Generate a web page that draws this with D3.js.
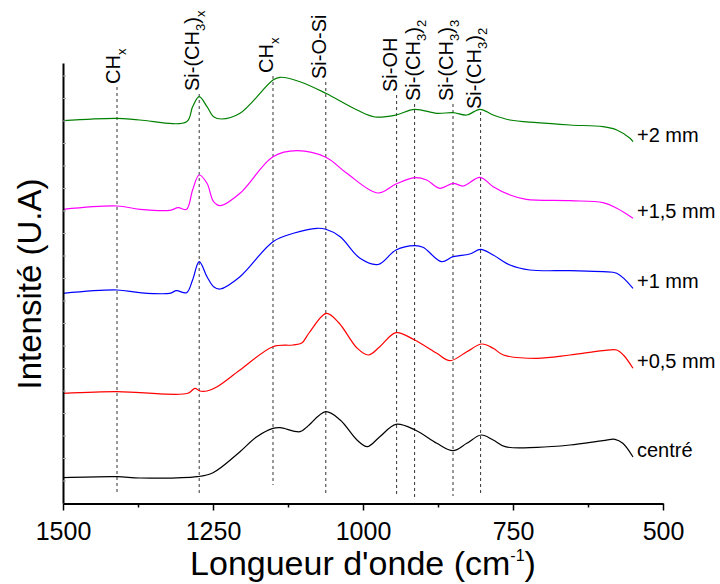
<!DOCTYPE html>
<html><head><meta charset="utf-8">
<script src="https://cdn.jsdelivr.net/npm/d3@7"></script>
<style>body{margin:0;background:#fff}svg text{font-family:"Liberation Sans",Arial,sans-serif}</style>
</head><body>
<svg id="c" width="720" height="584"></svg>
<script>
// ---- data ----
const xTicks = [1500, 1250, 1000, 750, 500];
const xMinorTicks = [1375, 1125, 875, 625];
const seriesNames = ["centré", "+0,5 mm", "+1 mm", "+1,5 mm", "+2 mm"];
const seriesColors = ["#000000", "#ff0000", "#0000ff", "#ff00ff", "#008000"];

const centreWn  = [1500,1410,1372,1277,1250,1205,1177,1150,1138,1105,1093,1062,1038,1010,993,972,945,913,877,850,827,803,783,763,710,655,600,580,567,550];
const centreVal = [25.3,26.3,25,26.3,30.3,51.3,66.3,74.7,75.3,71.3,76.3,91.3,83,63,56.3,66.3,78.7,73,59.7,52.3,59.7,68,63,56.3,55.7,58,62.3,63.7,59.7,46];

const p05Wn  = [1500,1410,1372,1292,1280,1272,1260,1243,1205,1150,1117,1102,1090,1061,1040,1010,991,972,945,914,877,855,827,802,783,766,710,655,600,577,566,550];
const p05Val = [109.7,111.3,110.3,109.7,114.7,112,112,116.3,133,156.3,158,160,170,189.7,180,155,148,156.3,170.3,163,149.7,142.3,151.3,159,154.7,148,144.7,148,152.3,153,148,134.7];

const p1Wn  = [1500,1410,1372,1322,1311,1294,1284,1273,1260,1249,1238,1205,1150,1116,1077,1062,1038,1005,975,945,914,900,869,850,822,804,783,755,722,655,600,577,550];
const p1Val = [209.7,213,210.3,209.7,212.3,210.3,223,241.3,226.3,216.3,214,226.3,261.3,269.7,274.7,273.7,266.3,244.7,238.5,253,257.3,255.7,241.3,246.3,249,253.7,248,238,233,232.3,231.3,229.7,214.7];

const p15Wn  = [1500,1410,1372,1322,1308,1294,1284,1273,1260,1249,1238,1205,1150,1110,1062,1027,975,945,914,894,872,850,833,805,783,755,728,655,600,577,550];
const p15Val = [293.7,297,293.7,292.7,295.3,293.7,313,328,319.7,301.3,297.3,309.7,346.3,352.3,345.7,329.7,310,319,325.3,323,314.7,319.7,317,325.7,316.3,308,303.7,302.3,300.3,294.7,284.7];

const p2Wn  = [1500,1410,1372,1294,1284,1273,1260,1249,1236,1205,1150,1138,1105,1062,1010,980,945,914,877,850,827,805,783,755,710,655,600,577,555,550];
const p2Val = [382.3,384.7,383,381.3,396.3,406.3,396.3,386.3,384,389.7,423,425.7,421.3,409.7,393,386,388,393.7,389.7,390.3,388,393.7,388,383,380.3,378,376.3,373,364.7,361.3];

const seriesWn  = [centreWn, p05Wn, p1Wn, p15Wn, p2Wn];
const seriesVal = [centreVal, p05Val, p1Val, p15Val, p2Val];

const bandWn     = [1410, 1273, 1150, 1062, 944, 914, 850, 804];
const bandLabels = ["CH_x", "Si-(CH_3)_x", "CH_x", "Si-O-Si", "Si-OH", "Si-(CH_3)_2", "Si-(CH_3)_3", "Si-(CH_3)_2"];
const bandTop    = [416, 409, 427, 421, 408, 399, 399, 391];
const bandBottom = [9, 9, 18, 9, 7, 6, 7, 9];

// ---- layout ----
const svg = d3.select("#c");
const x = d3.scaleLinear().domain([1500, 500]).range([63, 663]);
const y = d3.scaleLinear().domain([0, 440]).range([503, 63]);
const bandNudge = [3, 0, 0, 0, 0, 5, 0, 0];

// dashed band lines
bandWn.forEach((w, i) => {
  svg.append("line")
    .attr("x1", x(w)).attr("x2", x(w))
    .attr("y1", y(bandTop[i])).attr("y2", y(bandBottom[i]))
    .attr("stroke", "#333").attr("stroke-width", 1)
    .attr("stroke-dasharray", "3,3");
  const t = svg.append("text")
    .attr("transform", `translate(${x(w) + bandNudge[i]},${y(bandTop[i]) - 3}) rotate(-90)`)
    .attr("font-size", 20).attr("fill", "#000");
  const parts = bandLabels[i].split(/(_.)/).filter(s => s.length);
  let sub = false;
  parts.forEach(p => {
    if (p[0] === "_") {
      t.append("tspan").attr("font-size", 13).attr("dy", 6).text(p[1]);
      sub = true;
    } else {
      const ts = t.append("tspan").text(p);
      if (sub) { ts.attr("dy", -6); sub = false; }
    }
  });
});

// curves
const line = d3.line().curve(d3.curveCatmullRom.alpha(0.5));
seriesWn.forEach((wn, i) => {
  const pts = wn.map((w, j) => [x(w), y(seriesVal[i][j])]);
  svg.append("path").attr("d", line(pts))
    .attr("fill", "none").attr("stroke", seriesColors[i]).attr("stroke-width", 1.2);
  const last = wn.length - 1;
  svg.append("text")
    .attr("x", x(wn[last]) + 4).attr("y", y(seriesVal[i][last]))
    .attr("font-size", 20).attr("fill", "#000")
    .text(seriesNames[i]);
});

// left axis
const ya = svg.append("g").attr("transform", "translate(63,0)")
  .call(d3.axisLeft(y).tickValues(d3.range(0, 441, 22.5)).tickSize(-3).tickSizeOuter(0).tickFormat(""));
ya.select(".domain").attr("stroke", "#000").attr("stroke-width", 2);
ya.selectAll(".tick line").attr("stroke", "#aaa");

// bottom axis
const xa = svg.append("g").attr("transform", "translate(0,503.5)")
  .call(d3.axisBottom(x).tickValues(xTicks).tickSize(7).tickSizeOuter(0).tickPadding(12).tickFormat(d3.format("d")));
xa.select(".domain").attr("stroke", "#000").attr("stroke-width", 2);
xa.selectAll(".tick line").attr("stroke", "#000").attr("stroke-width", 1.5);
xa.selectAll(".tick text").attr("font-size", 25).attr("fill", "#000")
  .attr("font-family", "Liberation Sans, Arial, sans-serif");
const xm = svg.append("g").attr("transform", "translate(0,503.5)")
  .call(d3.axisBottom(x).tickValues(xMinorTicks).tickSize(4).tickSizeOuter(0).tickFormat(""));
xm.select(".domain").remove();
xm.selectAll(".tick line").attr("stroke", "#000").attr("stroke-width", 1.5);

// axis titles
const xt = svg.append("text").attr("x", 363).attr("y", 575)
  .attr("text-anchor", "middle").attr("font-size", 34).attr("fill", "#000");
xt.append("tspan").text("Longueur d'onde (cm");
xt.append("tspan").attr("font-size", 16).attr("dy", -14).text("-1");
xt.append("tspan").attr("dy", 14).text(")");

svg.append("text").attr("transform", "translate(41,284) rotate(-90)")
  .attr("text-anchor", "middle").attr("font-size", 33).attr("fill", "#000")
  .text("Intensité (U.A)");
</script>
</body></html>
